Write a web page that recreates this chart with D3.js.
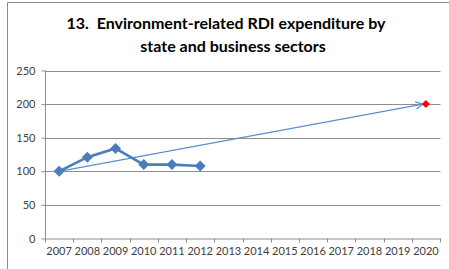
<!DOCTYPE html>
<html><head><meta charset="utf-8">
<script src="https://cdn.jsdelivr.net/npm/d3@7"></script>
<style>body{margin:0;background:#fff}svg{display:block}</style>
</head><body><svg id="c" width="449" height="269"></svg>
<script>
const categories = ["2007","2008","2009","2010","2011","2012","2013","2014","2015","2016","2017","2018","2019","2020"];
const seriesYears = ["2007","2008","2009","2010","2011","2012"];
const seriesValues = [100, 121, 134, 110, 110, 108];
const targetStart = {year: "2007", value: 100};
const targetEnd = {year: "2020", value: 200};
const yTicks = [0, 50, 100, 150, 200, 250];
const titleLines = ["13.  Environment-related RDI expenditure by", "state and business sectors"];

const svg = d3.select("#c");
const font = "Lato, 'Open Sans', sans-serif";
// border
svg.append("path").attr("d","M7.5,269 V2.5 H449").attr("fill","none").attr("stroke","#8c8c8c").attr("stroke-width",1);

const x = d3.scaleBand().domain(categories).range([45, 440]);
const y = d3.scaleLinear().domain([0, 250]).range([238.5, 70.5]);

// gridlines
svg.append("g").selectAll("line").data(yTicks.filter(d=>d>0)).join("line")
  .attr("x1",45).attr("x2",440.5).attr("y1",d=>Math.round(y(d))+0.5).attr("y2",d=>Math.round(y(d))+0.5)
  .attr("stroke","#8e8e8e").attr("stroke-width",1);

// y axis
const ya = svg.append("g").attr("transform","translate(45.5,0)")
  .call(d3.axisLeft(y).tickValues(yTicks).tickSize(4).tickPadding(6).tickFormat(d3.format("d")));
ya.selectAll("path,line").attr("stroke","#8e8e8e");
ya.select(".domain").attr("d","M0,70.5V238.5");
ya.selectAll("text").attr("font-family",font).attr("font-size","11px").attr("fill","#404040");

// x axis
const xa = svg.append("g").attr("transform","translate(0,238.5)")
  .call(d3.axisBottom(x).tickSize(0).tickPadding(9));
xa.select(".domain").attr("stroke","#8e8e8e").attr("d","M45,0.5H440.5");
xa.selectAll("text").attr("font-family",font).attr("font-size","11px").attr("fill","#404040");
const bounds = categories.map(c=>x(c)).concat([x.range()[1]]);
xa.append("g").selectAll("line").data(bounds).join("line")
  .attr("x1",d=>Math.round(d)+0.5).attr("x2",d=>Math.round(d)+0.5).attr("y1",0).attr("y2",4)
  .attr("stroke","#8e8e8e");

const cx = c => x(c) + x.bandwidth()/2;

// target arrow
svg.append("defs").append("marker").attr("id","arr").attr("viewBox","0 0 10 10")
  .attr("refX",9).attr("refY",5).attr("markerWidth",9).attr("markerHeight",9)
  .attr("markerUnits","userSpaceOnUse").attr("orient","auto")
  .append("path").attr("d","M1,1 L9,5 L1,9").attr("fill","none").attr("stroke","#5b8fd0").attr("stroke-width",1.3);
svg.append("line")
  .attr("x1",cx(targetStart.year)).attr("y1",y(targetStart.value))
  .attr("x2",cx(targetEnd.year)-3).attr("y2",y(targetEnd.value))
  .attr("stroke","#5b8fd0").attr("stroke-width",1.3).attr("marker-end","url(#arr)");

// series line
const pts = seriesYears.map((yr,i)=>[cx(yr), y(seriesValues[i])]);
svg.append("path").attr("d", d3.line()(pts)).attr("fill","none")
  .attr("stroke","#4a7ebb").attr("stroke-width",2.6);
svg.append("g").selectAll("path").data(pts).join("path")
  .attr("transform",d=>`translate(${d[0]},${d[1]})`)
  .attr("d","M0,-5.5 L5.5,0 L0,5.5 L-5.5,0Z").attr("fill","#4a7ebb");

// red target point
svg.append("path").attr("transform",`translate(${cx(targetEnd.year)},${y(targetEnd.value)})`)
  .attr("d","M0,-4 L4,0 L0,4 L-4,0Z").attr("fill","#ff0000");

// title
svg.append("g").selectAll("text").data(titleLines).join("text")
  .attr("x",(d,i)=> i===0 ? 226 : 233).attr("y",(d,i)=>29 + i*23)
  .attr("text-anchor","middle").attr("font-family",font).attr("font-weight","bold")
  .attr("font-size","16px").attr("fill","#000").style("white-space","pre").text(d=>d);
</script></body></html>
